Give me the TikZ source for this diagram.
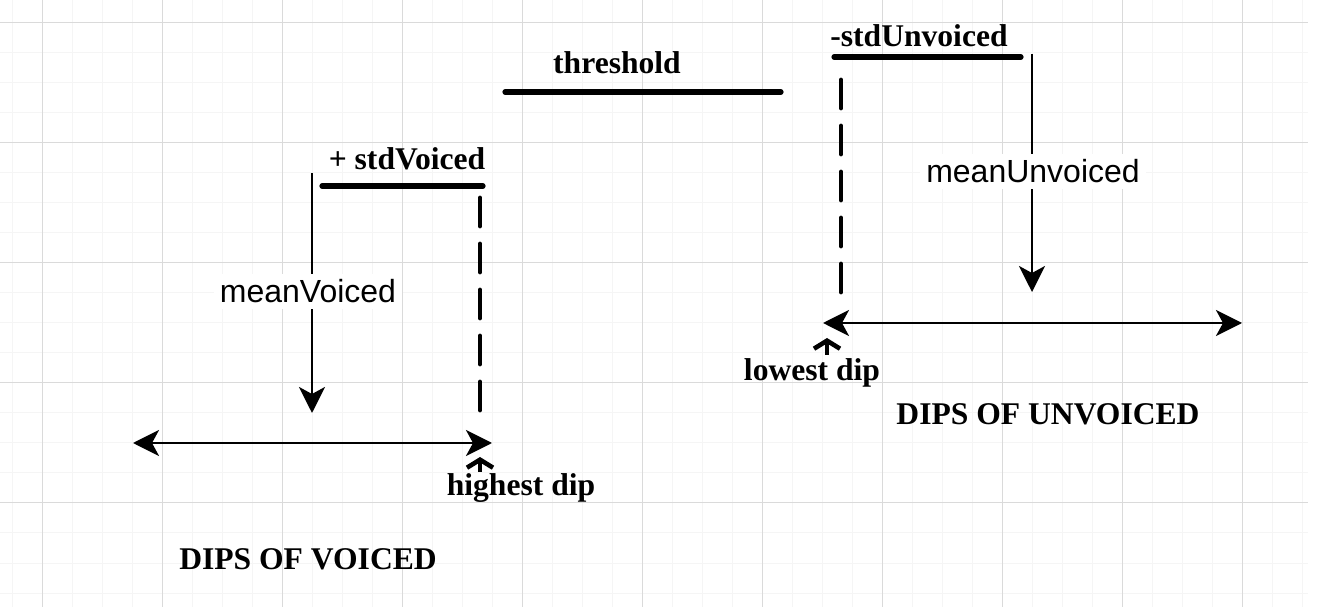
\documentclass[tikz,border=0pt]{standalone}
\usepackage{fontspec}
\setmainfont{Liberation Serif}
\newfontfamily\labelfont{Liberation Sans}
\usetikzlibrary{arrows.meta}

\definecolor{gridmajor}{HTML}{DADADA}
\definecolor{gridminor}{HTML}{F5F5F5}

\tikzset{
  bound/.style={black,line width=2.6pt,line cap=round},
  limit/.style={line width=2.4pt,dash pattern=on 14pt off 9pt,line cap=round},
  meanline/.style={line width=1.3pt,-{Stealth[length=13pt,width=13pt,inset=3.5pt]}},
  spanarrow/.style={line width=1.3pt,{Stealth[length=13pt,width=13pt,inset=3.5pt]}-{Stealth[length=13pt,width=13pt,inset=3.5pt]}},
  pointer/.style={line width=2.3pt,-{Straight Barb[length=4pt,width=13pt]}},
  boldtext/.style={font=\fontsize{15.8}{19}\selectfont\bfseries,inner sep=0pt,anchor=base},
  meantext/.style={font=\fontsize{16}{19}\selectfont\labelfont,fill=white,inner sep=3pt,anchor=base}
}

\begin{document}
\begin{tikzpicture}[x=0.5pt, y=-0.5pt]
\useasboundingbox (0,0) rectangle (1323,614);

% grid
\foreach \gx in {12,42,...,1302}
  \draw[gridminor,line width=0.5pt] (\gx,0)--(\gx,607);
\foreach \gy in {23,53,...,593}
  \draw[gridminor,line width=0.5pt] (0,\gy)--(1308,\gy);
\foreach \gx in {42,162,...,1242}
  \draw[gridmajor,line width=0.5pt] (\gx,0)--(\gx,607);
\foreach \gy in {23,143,...,503}
  \draw[gridmajor,line width=0.5pt] (0,\gy)--(1308,\gy);

% threshold
\node[boldtext] (threshold) at (617,74) {threshold};
\coordinate (thrLeft) at (505,92);
\coordinate (thrRight) at (781,92);
\draw[bound] (thrLeft)--(thrRight);

% voiced
\node[boldtext] (stdV) at (407,170) {+ stdVoiced};
\coordinate (stdVLeft) at (322,186);
\coordinate (stdVRight) at (483,186);
\draw[bound] (stdVLeft)--(stdVRight);

\coordinate (meanVTop) at (312,173);
\coordinate (meanVTip) at (312,413);
\draw[meanline] (meanVTop)--(meanVTip);
\node[meantext] (meanV) at (308,303) {meanVoiced};

\coordinate (highTop) at (480,198);
\coordinate (highBot) at (480,420);
\draw[limit] (highTop)--(highBot);

\coordinate (voicedLeft) at (133,443);
\coordinate (voicedRight) at (492,443);
\draw[spanarrow] (voicedLeft)--(voicedRight);

\coordinate (highFrom) at (480,472);
\coordinate (highTip) at (480,457);
\draw[pointer] (highFrom)--(highTip);
\node[boldtext] (highest) at (521,495) {highest dip};

\node[boldtext] (dipsV) at (308,569) {DIPS OF VOICED};

% unvoiced
\node[boldtext] (stdU) at (919,47) {-stdUnvoiced};
\coordinate (stdULeft) at (834,57);
\coordinate (stdURight) at (1021,57);
\draw[bound] (stdULeft)--(stdURight);

\coordinate (lowTop) at (841,80);
\coordinate (lowBot) at (841,298);
\draw[limit] (lowTop)--(lowBot);

\coordinate (meanUTop) at (1032,54);
\coordinate (meanUTip) at (1032,292);
\draw[meanline] (meanUTop)--(meanUTip);
\node[meantext] (meanU) at (1033,183) {meanUnvoiced};

\coordinate (unvoicedLeft) at (823,323);
\coordinate (unvoicedRight) at (1242,323);
\draw[spanarrow] (unvoicedLeft)--(unvoicedRight);

\coordinate (lowFrom) at (827,355);
\coordinate (lowTip) at (827,338);
\draw[pointer] (lowFrom)--(lowTip);
\node[boldtext] (lowest) at (812,381) {lowest dip};

\node[boldtext] (dipsU) at (1048,425) {DIPS OF UNVOICED};

\end{tikzpicture}
\end{document}
